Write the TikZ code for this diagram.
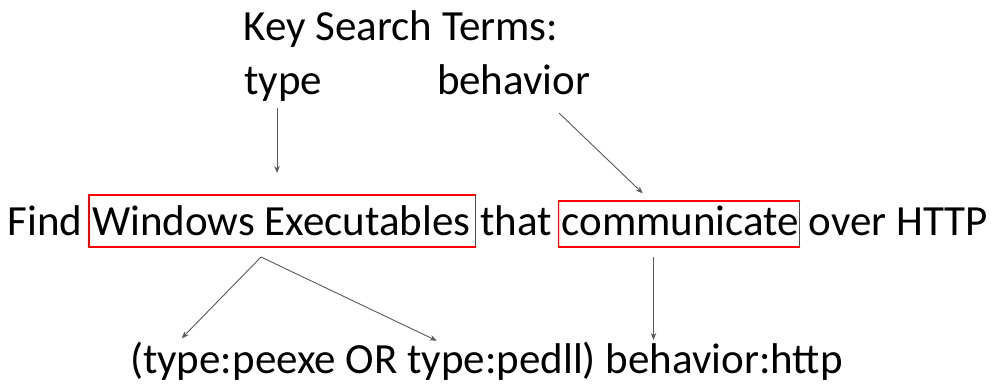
\documentclass[tikz,border=0pt]{standalone}
\usepackage{fontspec}
\setmainfont{Carlito}
\usetikzlibrary{arrows.meta,calc}
\newlength\wsp
\settowidth{\wsp}{\fontsize{43}{52}\selectfont\ }
\begin{document}
\begin{tikzpicture}[x=1pt,y=-1pt,
  txt/.style={inner sep=0pt, outer sep=0pt, anchor=base west, font=\fontsize{43}{52}\selectfont},
  arr/.style={draw=black!65, line width=0.9pt, -{Stealth[length=7pt,width=5.5pt]}},
  redbox/.style={draw=red, line width=1.2pt}]
\useasboundingbox[fill=white] (0,0) rectangle (991,386);
% top terms
\node[txt] (title) at (243.5,40.7) {Key Search Terms:};
\node[txt] (type) at (244.5,94) {type};
\node[txt] (behav) at (437,94) {behavior};
% main sentence
\node[txt] (find) at (7.5,235) {Find};
\node[txt] (winexe) at ([xshift=\wsp]find.base east) {Windows Executables};
\node[txt] (that) at ([xshift=\wsp]winexe.base east) {that};
\node[txt] (comm) at ([xshift=\wsp]that.base east) {communicate};
\node[txt] (over) at ([xshift=\wsp]comm.base east) {over HTTP};
\draw[redbox] ([shift={(-3pt,-12pt)}]winexe.base west) rectangle ([shift={(5pt,40pt)}]winexe.base east);
\draw[redbox] ([shift={(-3pt,-12pt)}]comm.base west) rectangle ([shift={(0pt,34pt)}]comm.base east);
% query
\node[txt] (query) at (130,373) {(type:peexe OR type:pedll) behavior:http};
% connector ends
\coordinate (typeout) at (277,108);
\coordinate (winin) at (277,173);
\coordinate (behout) at (559,113);
\coordinate (commin) at (642.7,193.3);
\coordinate (winout) at (261,257);
\coordinate (peexe) at (181.7,338.3);
\coordinate (pedll) at (436.7,340.7);
\coordinate (commout) at (653.5,257);
\coordinate (http) at (653.5,340);
\draw[arr] (typeout) -- (winin);
\draw[arr] (behout) -- (commin);
\draw[arr] (winout) -- (peexe);
\draw[arr] (winout) -- (pedll);
\draw[arr] (commout) -- (http);
\end{tikzpicture}
\end{document}
